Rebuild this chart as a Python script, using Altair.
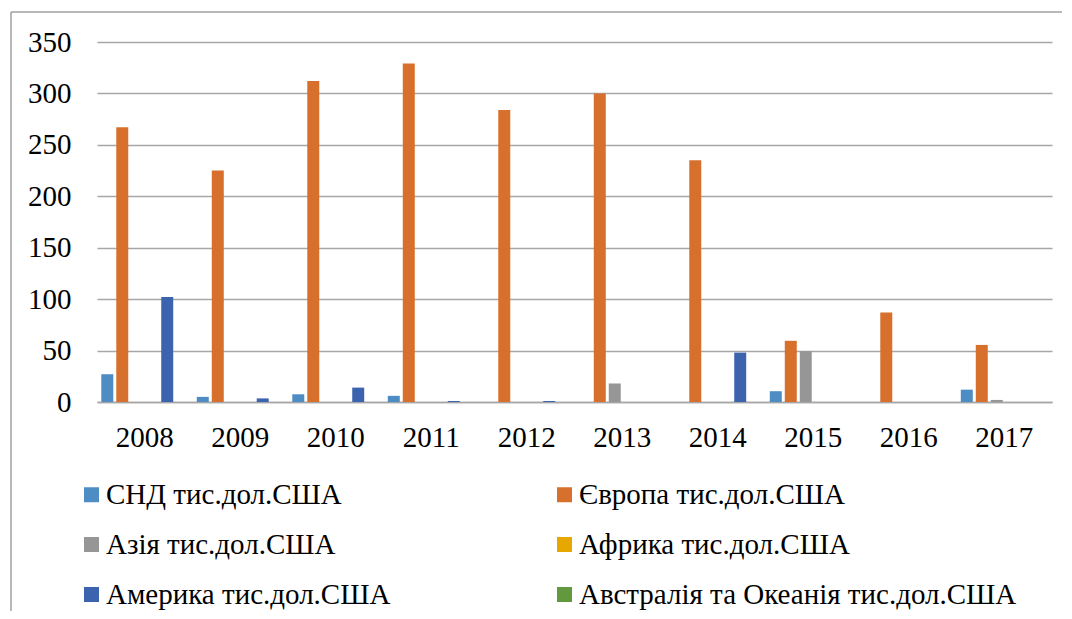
import altair as alt
import pandas as pd

years = ["2008", "2009", "2010", "2011", "2012", "2013", "2014", "2015", "2016", "2017"]
series = [
    "СНД тис.дол.США",
    "Європа тис.дол.США",
    "Азія тис.дол.США",
    "Африка тис.дол.США",
    "Америка тис.дол.США",
    "Австралія та Океанія тис.дол.США",
]
colors = ["#4E8CC4", "#D6702C", "#969696", "#E6A800", "#3C63AE", "#62993E"]

snd = [27, 5, 7.5, 6, 0, 0, 0, 10.5, 0, 12]
europe = [267, 225, 312, 329, 284, 300, 235, 59.5, 87, 55.5]
asia = [0, 0, 0, 0, 0, 18, 0, 49.5, 0, 2]
africa = [0, 0, 0, 0, 0, 0, 0, 0, 0, 0]
america = [102, 3.5, 14, 1, 1, 0, 48, 0, 0, 0]
australia = [0, 0, 0, 0, 0, 0, 0, 0, 0, 0]

values = [snd, europe, asia, africa, america, australia]
rows = []
for name, vals in zip(series, values):
    for y, v in zip(years, vals):
        rows.append({"Рік": y, "Регіон": name, "Значення": v})
df = pd.DataFrame(rows)

FONT = "Liberation Serif"
GRID = "#A6A6A6"
FS = 29

bars = alt.Chart(df).mark_bar().encode(
    x=alt.X(
        "Рік:N",
        sort=years,
        scale=alt.Scale(paddingInner=0.09, paddingOuter=0.045),
        axis=alt.Axis(
            title=None, labelAngle=0, ticks=False, domainColor=GRID, domainWidth=1.3,
            labelFont=FONT, labelFontSize=FS, labelColor="black", labelPadding=21,
        ),
    ),
    xOffset=alt.XOffset("Регіон:N", sort=series, scale=alt.Scale(paddingInner=0.2, paddingOuter=0)),
    y=alt.Y(
        "Значення:Q",
        scale=alt.Scale(domain=[0, 350], nice=False),
        axis=alt.Axis(
            title=None, values=[0, 50, 100, 150, 200, 250, 300, 350], domain=False, ticks=False,
            gridColor=GRID, gridWidth=1.3, labelFont=FONT, labelFontSize=FS, labelColor="black",
            labelPadding=26,
        ),
    ),
    color=alt.Color(
        "Регіон:N",
        sort=series,
        scale=alt.Scale(domain=series, range=colors),
        legend=alt.Legend(
            title=None, orient="none", legendX=-20, legendY=438, columns=2, direction="horizontal",
            symbolType="square", symbolSize=225, symbolStrokeWidth=0,
            labelFont=FONT, labelFontSize=FS, labelColor="black", labelLimit=1000,
            labelOffset=0, rowPadding=20, columnPadding=159, padding=0,
            labelExpr="indexof(datum.label, 'СНД') == 0 ? '\u00a0\u00a0' + datum.label : datum.label",
        ),
    ),
)

one = pd.DataFrame({"k": [0]})
border_left = alt.Chart(one).mark_rule(color="#A0A0A0", strokeWidth=1.5).encode(
    x=alt.value(-86), y=alt.value(-30), y2=alt.value(600)
)
border_top = alt.Chart(one).mark_rule(color="#A0A0A0", strokeWidth=1.5).encode(
    x=alt.value(-86), x2=alt.value(1000), y=alt.value(-30)
)

chart = alt.layer(bars, border_left, border_top).properties(
    width=955,
    height=360,
    padding={"left": 89, "top": 34, "right": 10, "bottom": 209},
    autosize=alt.AutoSizeParams(type="none"),
    background="white",
).configure(font=FONT).configure_view(stroke=None)

chart.save("out.html", embed_options={"renderer": "svg", "actions": False})
